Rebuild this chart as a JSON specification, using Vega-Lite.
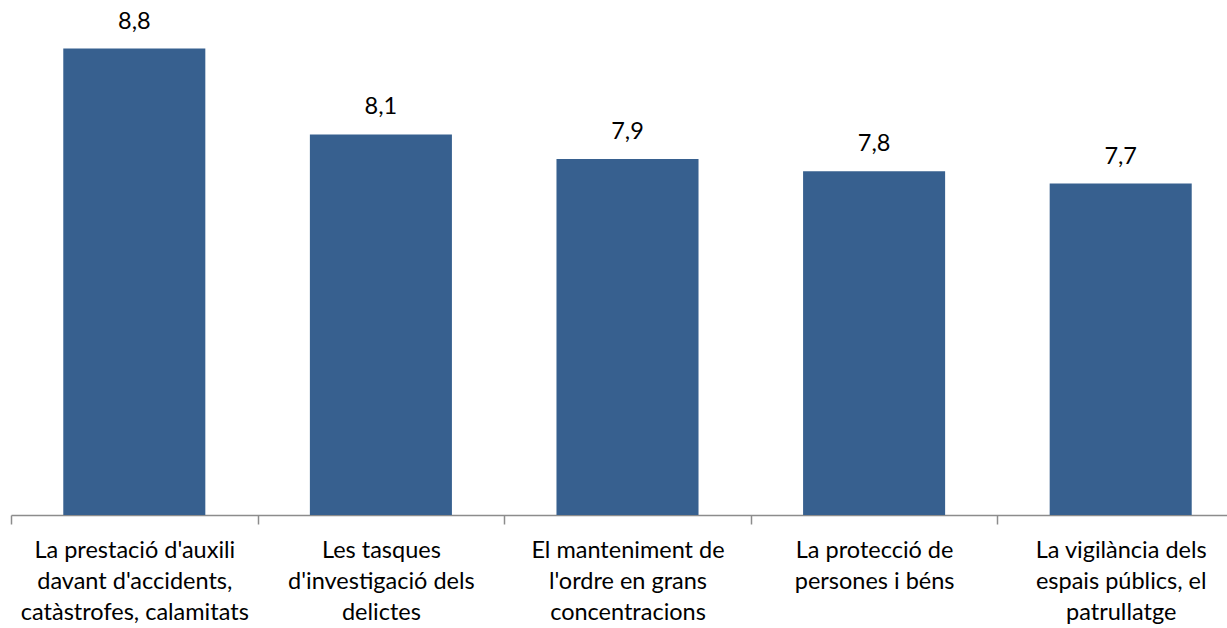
{
  "$schema": "https://vega.github.io/schema/vega-lite/v6.json",
  "autosize": {"type": "none"},
  "width": 1216,
  "height": 491,
  "padding": {"left": 11, "right": 0, "top": 24, "bottom": 113},
  "background": "white",
  "config": {
    "view": {"stroke": null},
    "locale": {"number": {"decimal": ",", "thousands": ".", "grouping": [3], "currency": ["", " €"]}},
    "font": "Lato"
  },
  "data": {
    "values": [
      {"ambit": "La prestació d'auxili|davant d'accidents,|catàstrofes, calamitats", "valoracio": 8.8, "ordre": 1},
      {"ambit": "Les tasques|d'investigació dels|delictes", "valoracio": 8.1, "ordre": 2},
      {"ambit": "El manteniment de|l'ordre en grans|concentracions", "valoracio": 7.9, "ordre": 3},
      {"ambit": "La protecció de|persones i béns", "valoracio": 7.8, "ordre": 4},
      {"ambit": "La vigilància dels|espais públics, el|patrullatge", "valoracio": 7.7, "ordre": 5}
    ]
  },
  "encoding": {
    "x": {
      "field": "ambit",
      "type": "nominal",
      "sort": {"field": "ordre"},
      "scale": {"range": [0, 1233], "paddingInner": 0, "paddingOuter": 0},
      "axis": {
        "title": null,
        "labelAngle": 0,
        "labelExpr": "split(datum.label, '|')",
        "labelFont": "Lato",
        "labelFontSize": 23.5,
        "labelColor": "#000000",
        "labelLineHeight": 31,
        "labelPadding": 14,
        "labelLimit": 300,
        "domainColor": "#8c8c8c",
        "domainWidth": 1.5,
        "tickColor": "#8c8c8c",
        "tickWidth": 1.5,
        "tickSize": 9,
        "tickBand": "extent"
      }
    },
    "y": {
      "field": "valoracio",
      "type": "quantitative",
      "scale": {"domain": [5, 9], "nice": false, "zero": false},
      "axis": null
    }
  },
  "layer": [
    {
      "mark": {"type": "bar", "color": "#37608f", "width": {"band": 0.576}},
      "encoding": {"y2": {"datum": 5}}
    },
    {
      "mark": {"type": "text", "baseline": "bottom", "dy": -15, "fontSize": 23.5, "font": "Lato", "color": "#000000"},
      "encoding": {"text": {"field": "valoracio", "type": "quantitative", "format": ".1f"}}
    }
  ]
}
